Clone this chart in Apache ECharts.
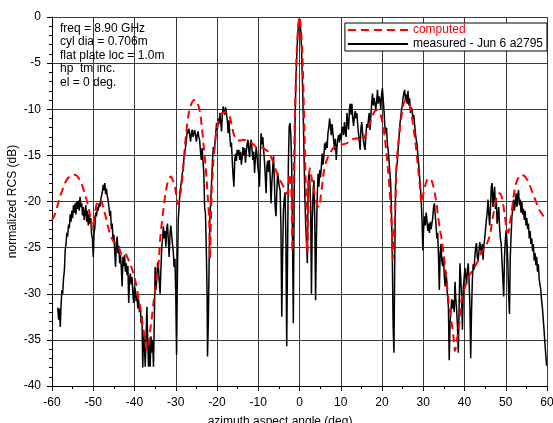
<!DOCTYPE html>
<html>
<head>
<meta charset="utf-8">
<script src="https://cdn.jsdelivr.net/npm/echarts@6/dist/echarts.min.js"></script>
<style>
html,body{margin:0;padding:0;background:#fff;}
#chart{width:553px;height:423px;}
</style>
</head>
<body>
<div id="chart"></div>
<script>
// ---- data ----
const xTicks = [-60,-50,-40,-30,-20,-10,0,10,20,30,40,50,60];
const yTicks = [-40,-35,-30,-25,-20,-15,-10,-5,0];
const infoLines = ["freq = 8.90 GHz","cyl dia = 0.706m","flat plate loc = 1.0m","hp  tm inc.","el = 0 deg."];
const seriesNames = ["computed","measured - Jun 6 a2795"];
const xName = "azimuth aspect angle (deg)";
const yName = "normalized RCS (dB)";

const computed = [[-60,-22.0],[-59.5,-21.6],[-59,-21.0],[-58.5,-20.2],[-58,-19.4],[-57.5,-18.8],[-57,-18.2],[-56.5,-17.7],[-56,-17.4],[-55.5,-17.2],[-55,-17.1],[-54.5,-17.1],[-54,-17.2],[-53.5,-17.5],[-53,-17.9],[-52.5,-18.5],[-52,-19.2],[-51.5,-20.0],[-51,-21.0],[-50.5,-22.2],[-50.2,-23.0],[-50,-22.6],[-49.6,-21.3],[-49.2,-20.3],[-48.8,-19.9],[-48.4,-19.8],[-48,-20.0],[-47.5,-20.8],[-47,-21.6],[-46.5,-22.6],[-46,-23.4],[-45.5,-24.0],[-45,-24.4],[-44.3,-24.6],[-43.6,-25.2],[-43,-25.8],[-42.3,-25.6],[-41.7,-26.1],[-41,-26.8],[-40.4,-27.6],[-39.8,-28.6],[-39.2,-30.0],[-38.6,-31.6],[-38,-33.4],[-37.5,-35.0],[-37,-36.1],[-36.6,-35.6],[-36.2,-34.0],[-35.8,-32.6],[-35.4,-31.0],[-35,-29.6],[-34.6,-28.2],[-34.1,-26.4],[-33.8,-24.2],[-33.4,-22.4],[-33,-20.9],[-32.5,-19.2],[-32,-18.0],[-31.6,-17.5],[-31.2,-17.3],[-30.8,-17.6],[-30.2,-18.4],[-29.8,-19.6],[-29.5,-20.3],[-29.1,-19.6],[-28.6,-18.4],[-28.2,-16.2],[-27.8,-14.1],[-27.4,-12.3],[-27,-10.8],[-26.5,-9.8],[-26,-9.2],[-25.5,-9.0],[-25,-9.07],[-24.5,-9.6],[-24.1,-10.4],[-23.6,-12.2],[-23.2,-14.1],[-22.8,-16.0],[-22.5,-17.7],[-22.2,-19.8],[-21.9,-22.0],[-21.7,-26.2],[-21.5,-22.5],[-21.3,-19.0],[-20.9,-15.8],[-20.5,-13.8],[-20.1,-12.3],[-19.7,-11.3],[-19.3,-10.8],[-18.7,-10.4],[-18.1,-10.3],[-17.5,-10.4],[-16.9,-10.8],[-16.4,-11.8],[-16.0,-12.6],[-15.6,-13.1],[-15.2,-13.3],[-14.4,-13.4],[-13.6,-13.3],[-12.8,-13.4],[-12,-13.5],[-11.2,-13.8],[-10.4,-14.1],[-9.6,-14.1],[-8.8,-14.2],[-8.2,-14.4],[-7.6,-14.6],[-7,-15.1],[-6.4,-15.7],[-5.9,-16.4],[-5.5,-16.9],[-5.1,-17.4],[-4.7,-17.7],[-4.1,-18.2],[-3.5,-18.7],[-3.0,-19.2],[-2.7,-19.0],[-2.4,-17.0],[-2.1,-17.5],[-1.9,-20.5],[-1.7,-25.4],[-1.5,-19.8],[-1.2,-12.6],[-0.8,-5.4],[-0.4,-1.5],[0,0],[0.4,-1.5],[0.8,-5.4],[1.2,-12.6],[1.6,-19.8],[1.9,-25.6],[2.2,-19.0],[2.5,-16.4],[2.9,-17.3],[3.3,-18.4],[3.8,-19.5],[4.3,-20.4],[4.8,-20.6],[5.1,-19.6],[5.5,-18.2],[5.9,-16.8],[6.3,-15.9],[7.0,-15.1],[7.6,-14.6],[8.2,-14.2],[9.0,-14.0],[9.8,-13.9],[10.6,-13.8],[11.4,-13.7],[12,-13.5],[12.6,-13.3],[13.3,-13.2],[13.9,-13.15],[14.5,-13.3],[15.1,-13.5],[15.7,-13.1],[16.3,-12.4],[16.9,-11.7],[17.5,-11.0],[18.1,-10.3],[18.7,-10.1],[19.5,-10.4],[20.3,-11.9],[20.7,-13.2],[21.1,-14.8],[21.5,-16.8],[21.9,-19.1],[22.2,-21.5],[22.4,-23.4],[22.6,-26.3],[22.9,-23.4],[23.2,-20.9],[23.6,-15.5],[24.0,-13.5],[24.4,-11.9],[24.8,-10.5],[25.2,-9.4],[25.6,-9.1],[26.0,-9.0],[26.4,-9.2],[26.8,-9.7],[27.2,-10.6],[27.6,-11.9],[28.0,-13.2],[28.4,-14.8],[28.8,-16.6],[29.2,-18.4],[29.6,-20.2],[30.0,-19.2],[30.4,-18.4],[30.8,-17.8],[31.2,-17.5],[31.6,-17.5],[32.0,-17.7],[32.4,-18.3],[32.8,-19.1],[33.2,-20.2],[33.6,-21.6],[34.0,-22.9],[34.5,-24.2],[34.9,-25.6],[35.3,-27.1],[35.7,-28.9],[36.1,-30.7],[36.5,-32.0],[36.9,-33.2],[37.3,-34.6],[37.7,-36.2],[38.1,-35.2],[38.5,-34.0],[38.9,-32.6],[39.3,-30.6],[39.9,-29.6],[40.5,-28.8],[41.2,-28.0],[42.1,-27.4],[42.8,-26.8],[43.4,-26.3],[44.0,-25.6],[44.6,-25.2],[45.4,-24.6],[46.2,-23.6],[46.6,-22.4],[47.0,-21.4],[47.4,-20.3],[47.8,-19.6],[48.2,-19.2],[48.6,-19.1],[49.0,-19.5],[49.4,-20.4],[49.8,-21.6],[50.2,-23.0],[50.6,-23.4],[51.0,-22.4],[51.4,-21.2],[51.8,-19.8],[52.2,-18.6],[52.6,-17.9],[53.2,-17.3],[53.8,-17.1],[54.4,-17.2],[55.0,-17.5],[55.6,-18.0],[56.2,-18.7],[56.8,-19.4],[57.4,-20.1],[58.0,-20.8],[58.7,-21.3],[59.3,-21.7],[60,-22.0]];

const measured = [[-58.6,-31.5],[-58.4,-32.8],[-58.2,-31.6],[-58.0,-33.6],[-57.8,-31.2],[-57.6,-29.6],[-57.4,-30.0],[-57.2,-28.3],[-57.0,-27.5],[-56.8,-25.3],[-56.6,-24.6],[-56.4,-23.4],[-56.2,-23.8],[-56.0,-22.5],[-55.8,-22.9],[-55.6,-21.4],[-55.4,-22.2],[-55.2,-21.0],[-55.0,-21.8],[-54.8,-20.4],[-54.6,-21.2],[-54.4,-20.2],[-54.2,-21.4],[-54.0,-20.0],[-53.8,-20.8],[-53.6,-19.9],[-53.4,-21.0],[-53.2,-19.5],[-53.0,-20.6],[-52.8,-20.2],[-52.6,-21.5],[-52.4,-20.6],[-52.2,-22.0],[-52.0,-21.2],[-51.8,-20.4],[-51.6,-22.2],[-51.4,-21.0],[-51.2,-22.6],[-51.0,-21.4],[-50.8,-22.4],[-50.6,-21.8],[-50.4,-23.6],[-50.2,-24.0],[-50.0,-26.0],[-49.8,-23.4],[-49.6,-22.8],[-49.4,-21.2],[-49.2,-21.6],[-49.0,-20.6],[-48.8,-21.0],[-48.6,-20.2],[-48.4,-20.6],[-48.2,-19.8],[-48.0,-19.4],[-47.8,-19.0],[-47.6,-18.2],[-47.4,-18.8],[-47.2,-18.0],[-47.0,-19.2],[-46.8,-18.6],[-46.6,-19.4],[-46.4,-19.8],[-46.2,-20.6],[-46.0,-21.6],[-45.8,-21.0],[-45.6,-23.0],[-45.4,-22.4],[-45.2,-24.2],[-45.0,-23.6],[-44.8,-25.4],[-44.6,-27.1],[-44.4,-24.6],[-44.2,-23.8],[-44.0,-25.6],[-43.8,-24.8],[-43.6,-26.7],[-43.4,-25.8],[-43.2,-27.2],[-43.0,-29.2],[-42.8,-26.0],[-42.6,-27.0],[-42.4,-25.8],[-42.2,-27.6],[-42.0,-26.7],[-41.8,-28.0],[-41.6,-27.0],[-41.4,-31.0],[-41.2,-28.4],[-41.0,-27.8],[-40.8,-29.0],[-40.6,-28.2],[-40.4,-30.0],[-40.2,-31.0],[-40.0,-29.2],[-39.8,-29.6],[-39.6,-30.8],[-39.4,-30.2],[-39.2,-31.6],[-39.0,-30.6],[-38.8,-32.0],[-38.6,-31.2],[-38.4,-33.2],[-38.2,-32.4],[-38.0,-38.0],[-37.8,-34.0],[-37.6,-35.6],[-37.4,-37.9],[-37.2,-34.8],[-37.0,-31.4],[-36.8,-35.0],[-36.6,-37.9],[-36.4,-35.2],[-36.2,-37.9],[-36.0,-34.6],[-35.8,-36.4],[-35.6,-35.0],[-35.4,-37.9],[-35.2,-33.0],[-35.0,-27.1],[-34.8,-29.6],[-34.6,-28.4],[-34.4,-26.6],[-34.2,-27.1],[-34.0,-28.6],[-33.8,-30.0],[-33.6,-27.4],[-33.4,-25.0],[-33.2,-24.0],[-33.0,-22.7],[-32.8,-24.0],[-32.6,-23.2],[-32.4,-24.9],[-32.2,-23.0],[-32.0,-22.4],[-31.8,-24.2],[-31.6,-26.0],[-31.4,-23.6],[-31.2,-22.6],[-31.0,-22.7],[-30.8,-24.6],[-30.6,-25.4],[-30.4,-27.1],[-30.2,-26.2],[-30.0,-30.0],[-29.8,-36.6],[-29.6,-28.0],[-29.4,-22.0],[-29.2,-20.6],[-29.0,-19.0],[-28.8,-18.4],[-28.6,-17.7],[-28.4,-16.9],[-28.2,-16.6],[-28.0,-15.2],[-27.8,-14.8],[-27.6,-14.0],[-27.4,-13.3],[-27.2,-12.25],[-27.0,-12.6],[-26.8,-12.1],[-26.6,-12.8],[-26.4,-13.5],[-26.2,-12.6],[-26.0,-12.2],[-25.8,-13.0],[-25.6,-12.6],[-25.4,-12.25],[-25.2,-12.8],[-25.0,-13.5],[-24.8,-12.8],[-24.6,-12.4],[-24.4,-13.0],[-24.2,-13.4],[-24.0,-14.6],[-23.8,-15.5],[-23.6,-14.2],[-23.4,-15.6],[-23.2,-16.9],[-23.0,-20.6],[-22.8,-21.3],[-22.6,-25.0],[-22.4,-30.0],[-22.3,-36.8],[-22.1,-33.0],[-21.9,-26.3],[-21.7,-21.3],[-21.5,-19.8],[-21.3,-17.7],[-21.1,-15.6],[-20.9,-14.1],[-20.7,-14.6],[-20.5,-13.7],[-20.3,-12.6],[-20.1,-11.5],[-19.9,-12.2],[-19.7,-11.0],[-19.5,-11.6],[-19.3,-10.4],[-19.1,-11.4],[-18.9,-12.4],[-18.7,-10.6],[-18.5,-9.7],[-18.3,-9.5],[-18.1,-10.6],[-17.9,-9.8],[-17.7,-10.0],[-17.5,-11.2],[-17.3,-12.6],[-17.1,-11.2],[-16.9,-12.8],[-16.7,-14.1],[-16.5,-13.6],[-16.3,-15.6],[-16.1,-17.2],[-15.9,-18.4],[-15.7,-15.5],[-15.5,-14.8],[-15.3,-15.6],[-15.1,-14.4],[-14.9,-15.0],[-14.7,-14.4],[-14.5,-15.5],[-14.3,-14.6],[-14.1,-16.0],[-13.9,-15.2],[-13.7,-14.1],[-13.5,-15.0],[-13.3,-14.2],[-13.1,-15.8],[-12.9,-14.6],[-12.7,-13.8],[-12.5,-13.3],[-12.3,-14.4],[-12.1,-15.2],[-11.9,-13.6],[-11.7,-13.3],[-11.5,-14.4],[-11.3,-15.5],[-11.1,-14.6],[-10.9,-16.9],[-10.7,-15.4],[-10.5,-14.1],[-10.3,-15.0],[-10.1,-16.2],[-9.9,-17.0],[-9.7,-18.4],[-9.5,-15.0],[-9.3,-12.6],[-9.1,-13.8],[-8.9,-13.0],[-8.7,-14.4],[-8.5,-15.6],[-8.3,-17.2],[-8.1,-19.1],[-7.9,-16.2],[-7.7,-15.6],[-7.5,-16.8],[-7.3,-15.5],[-7.1,-17.4],[-6.9,-20.2],[-6.7,-18.0],[-6.5,-16.4],[-6.3,-15.1],[-6.1,-17.6],[-5.9,-20.6],[-5.7,-21.6],[-5.5,-19.0],[-5.3,-16.9],[-5.1,-17.6],[-4.9,-18.4],[-4.7,-18.75],[-4.5,-22.7],[-4.3,-32.5],[-4.1,-26.0],[-3.9,-21.0],[-3.7,-19.8],[-3.5,-19.0],[-3.3,-24.0],[-3.1,-35.7],[-2.9,-26.0],[-2.7,-16.0],[-2.5,-11.9],[-2.3,-11.5],[-2.1,-12.8],[-1.9,-16.0],[-1.7,-23.4],[-1.5,-33.2],[-1.3,-20.0],[-1.1,-12.0],[-0.9,-7.5],[-0.7,-4.6],[-0.5,-2.6],[-0.3,-1.0],[-0.1,-0.2],[0.1,-0.3],[0.3,-1.4],[0.5,-3.6],[0.7,-6.8],[0.9,-10.6],[1.1,-15.0],[1.3,-19.5],[1.5,-22.6],[1.7,-24.4],[1.9,-26.7],[2.1,-18.0],[2.3,-16.9],[2.5,-17.8],[2.7,-20.4],[2.9,-30.0],[3.1,-22.0],[3.3,-19.0],[3.5,-17.7],[3.7,-22.0],[3.9,-30.7],[4.1,-24.0],[4.3,-19.4],[4.5,-17.0],[4.7,-18.4],[4.9,-16.6],[5.1,-17.4],[5.3,-16.2],[5.5,-14.8],[5.7,-16.0],[5.9,-15.2],[6.1,-13.7],[6.3,-14.4],[6.5,-13.5],[6.7,-14.2],[6.9,-12.6],[7.1,-12.0],[7.3,-11.0],[7.5,-11.8],[7.7,-12.8],[7.9,-11.6],[8.1,-12.6],[8.3,-13.4],[8.5,-14.4],[8.7,-13.2],[8.9,-15.5],[9.1,-14.0],[9.3,-13.2],[9.5,-12.8],[9.7,-13.6],[9.9,-12.6],[10.1,-13.3],[10.3,-12.2],[10.5,-11.9],[10.7,-12.8],[10.9,-11.4],[11.1,-12.4],[11.3,-13.0],[11.5,-10.4],[11.7,-11.4],[11.9,-12.2],[12.1,-10.0],[12.3,-9.4],[12.5,-10.6],[12.7,-9.4],[12.9,-11.0],[13.1,-11.8],[13.3,-10.8],[13.5,-10.2],[13.7,-11.0],[13.9,-10.4],[14.1,-11.6],[14.3,-12.6],[14.5,-13.4],[14.7,-14.4],[14.9,-12.0],[15.1,-11.4],[15.3,-12.6],[15.5,-13.4],[15.7,-14.0],[15.9,-14.4],[16.1,-12.8],[16.3,-11.6],[16.5,-12.0],[16.7,-11.2],[16.9,-10.4],[17.1,-12.25],[17.3,-10.6],[17.5,-9.4],[17.7,-8.3],[17.9,-9.6],[18.1,-8.8],[18.3,-8.6],[18.5,-10.0],[18.7,-9.2],[18.9,-7.9],[19.1,-9.4],[19.3,-8.6],[19.5,-9.0],[19.7,-10.0],[19.9,-8.4],[20.1,-7.7],[20.3,-9.0],[20.5,-10.2],[20.7,-11.9],[20.9,-12.6],[21.1,-12.0],[21.3,-13.8],[21.5,-14.4],[21.7,-15.6],[21.9,-16.8],[22.1,-18.0],[22.3,-21.0],[22.5,-26.0],[22.7,-33.6],[22.9,-36.4],[23.1,-26.0],[23.3,-18.0],[23.5,-16.2],[23.7,-15.8],[23.9,-14.4],[24.1,-13.2],[24.3,-11.8],[24.5,-11.0],[24.7,-10.2],[24.9,-9.6],[25.1,-8.8],[25.3,-8.2],[25.5,-7.9],[25.7,-9.0],[25.9,-8.4],[26.1,-9.4],[26.3,-8.0],[26.5,-9.6],[26.7,-8.8],[26.9,-10.4],[27.1,-9.8],[27.3,-10.1],[27.5,-11.0],[27.7,-10.6],[27.9,-11.6],[28.1,-12.6],[28.3,-13.3],[28.5,-13.8],[28.7,-15.0],[28.9,-16.0],[29.1,-17.3],[29.3,-18.4],[29.5,-19.8],[29.7,-22.0],[29.9,-25.3],[30.1,-22.8],[30.3,-21.6],[30.5,-22.6],[30.7,-21.2],[30.9,-22.0],[31.1,-23.2],[31.3,-22.4],[31.5,-23.4],[31.7,-22.2],[31.9,-23.0],[32.1,-22.4],[32.3,-21.8],[32.5,-20.6],[32.7,-20.2],[32.9,-21.4],[33.1,-22.6],[33.3,-24.0],[33.5,-23.4],[33.7,-26.0],[33.9,-29.6],[34.1,-25.6],[34.3,-24.6],[34.5,-26.4],[34.7,-27.0],[34.9,-26.0],[35.1,-28.0],[35.3,-29.2],[35.5,-27.6],[35.7,-28.6],[35.9,-30.4],[36.1,-31.4],[36.3,-37.2],[36.5,-33.2],[36.7,-33.0],[36.9,-30.6],[37.1,-31.6],[37.3,-30.7],[37.5,-32.0],[37.7,-28.7],[37.9,-30.6],[38.1,-31.8],[38.3,-33.6],[38.5,-36.4],[38.7,-31.2],[38.9,-26.7],[39.1,-28.4],[39.3,-30.4],[39.5,-33.9],[39.7,-29.4],[39.9,-28.4],[40.1,-27.2],[40.3,-28.0],[40.5,-29.0],[40.7,-27.4],[40.9,-26.7],[41.1,-28.6],[41.3,-31.0],[41.5,-37.0],[41.7,-32.0],[41.9,-28.6],[42.1,-26.8],[42.3,-27.4],[42.5,-26.0],[42.7,-25.0],[42.9,-24.5],[43.1,-26.0],[43.3,-26.4],[43.5,-25.4],[43.7,-24.4],[43.9,-25.0],[44.1,-25.6],[44.3,-24.6],[44.5,-26.3],[44.7,-24.8],[44.9,-24.0],[45.1,-24.2],[45.3,-22.0],[45.5,-21.2],[45.7,-19.8],[45.9,-21.4],[46.1,-22.6],[46.3,-20.6],[46.5,-18.4],[46.7,-18.0],[46.9,-20.6],[47.1,-19.4],[47.3,-18.4],[47.5,-20.8],[47.7,-19.6],[47.9,-22.4],[48.1,-21.6],[48.3,-20.6],[48.5,-22.8],[48.7,-24.0],[48.9,-24.6],[49.1,-26.6],[49.3,-28.4],[49.5,-30.3],[49.7,-26.0],[49.9,-24.2],[50.1,-23.1],[50.3,-24.4],[50.5,-26.4],[50.7,-30.0],[50.9,-32.2],[51.1,-26.0],[51.3,-23.6],[51.5,-21.6],[51.7,-20.8],[51.9,-19.8],[52.1,-21.0],[52.3,-20.2],[52.5,-19.1],[52.7,-20.6],[52.9,-19.4],[53.1,-18.75],[53.3,-20.4],[53.5,-19.8],[53.7,-21.2],[53.9,-20.0],[54.1,-21.4],[54.3,-20.8],[54.5,-22.0],[54.7,-21.0],[54.9,-22.6],[55.1,-21.8],[55.3,-23.0],[55.5,-22.4],[55.7,-24.0],[55.9,-23.2],[56.1,-24.6],[56.3,-24.0],[56.5,-25.4],[56.7,-24.6],[56.9,-26.4],[57.1,-25.6],[57.3,-26.9],[57.5,-26.0],[57.7,-27.6],[57.9,-26.8],[58.1,-28.4],[58.3,-29.0],[58.5,-29.6],[58.7,-30.8],[58.9,-31.6],[59.1,-32.8],[59.3,-34.0],[59.5,-35.4],[59.7,-36.6],[59.9,-37.8]];

// ---- chart ----
const FONT = "'Liberation Sans', Arial, sans-serif";
const chart = echarts.init(document.getElementById('chart'), null, {renderer:'canvas'});
const xInterval = xTicks[1] - xTicks[0];
const yInterval = yTicks[1] - yTicks[0];
const option = {
  animation: false,
  backgroundColor: '#ffffff',
  grid: {left: 52, right: 6, top: 17, bottom: 37, containLabel: false, outerBoundsMode: 'none'},
  legend: {
    data: [
      {name: seriesNames[0], textStyle: {color: '#ff0000'}},
      {name: seriesNames[1], textStyle: {color: '#000000'}}
    ],
    orient: 'vertical',
    right: 6, top: 23,
    itemWidth: 60, itemHeight: 14, itemGap: 2,
    padding: [1, 4, 1, 2],
    backgroundColor: '#ffffff',
    borderColor: '#000000', borderWidth: 1, borderRadius: 0,
    itemStyle: {opacity: 0},
    textStyle: {fontFamily: FONT, fontSize: 12, color: '#000'},
    selectedMode: false
  },
  xAxis: {
    type: 'value', min: xTicks[0], max: xTicks[xTicks.length-1], interval: xInterval,
    name: xName, nameLocation: 'middle', nameGap: 30, nameMoveOverlap: false,
    nameTextStyle: {fontFamily: FONT, fontSize: 12, color: '#000', padding: [0, 39, 0, 0]},
    axisLine: {show: true, onZero: false, lineStyle: {color: '#000', width: 1}},
    axisTick: {show: true, inside: false, length: 5, lineStyle: {color: '#000'}},
    minorTick: {show: true, splitNumber: 2, length: 3, lineStyle: {color: '#000'}},
    axisLabel: {fontFamily: FONT, fontSize: 12, color: '#000', margin: 11},
    splitLine: {show: true, lineStyle: {color: '#3a3a3a', width: 1}}
  },
  yAxis: {
    type: 'value', min: yTicks[0], max: yTicks[yTicks.length-1], interval: yInterval,
    name: yName, nameLocation: 'middle', nameGap: 33, nameRotate: 90, nameMoveOverlap: false,
    nameTextStyle: {fontFamily: FONT, fontSize: 12, color: '#000'},
    axisLine: {show: true, onZero: false, lineStyle: {color: '#000', width: 1}},
    axisTick: {show: true, inside: false, length: 5, lineStyle: {color: '#000'}},
    minorTick: {show: true, splitNumber: 5, length: 3, lineStyle: {color: '#000'}},
    axisLabel: {fontFamily: FONT, fontSize: 12, color: '#000', margin: 11},
    splitLine: {show: true, lineStyle: {color: '#3a3a3a', width: 1}}
  },
  graphic: [{
    type: 'text', left: 60, top: 22, z: 50,
    style: {text: infoLines.join('\n'), font: '12px ' + FONT, fill: '#000', lineHeight: 13.4}
  }],
  series: [
    {
      name: seriesNames[1], type: 'line', data: measured, showSymbol: false, symbol: 'none',
      lineStyle: {color: '#000000', width: 1.5}, itemStyle: {color: '#000000'}, z: 2
    },
    {
      name: seriesNames[0], type: 'line', data: computed, showSymbol: false, symbol: 'none',
      smooth: 0.3,
      lineStyle: {color: '#ff0000', width: 2, type: [8, 5]}, itemStyle: {color: '#ff0000'}, z: 3
    }
  ]
};
chart.setOption(option);
</script>
</body>
</html>
